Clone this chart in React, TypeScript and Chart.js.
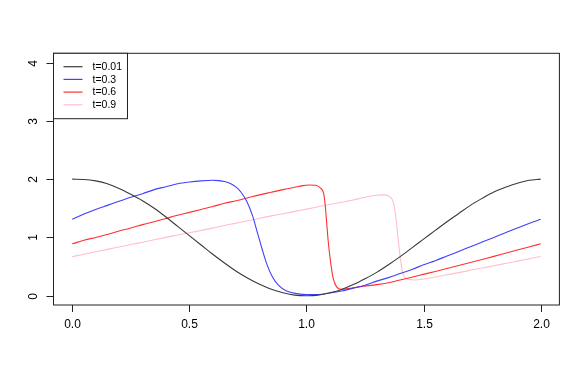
import React, { useEffect, useRef } from "react";
import { Chart, registerables } from "chart.js";

Chart.register(...registerables);

const seriesLabels = ["t=0.01", "t=0.3", "t=0.6", "t=0.9"];
const seriesColors = ["#3a3a3a", "#4040ff", "#ff3030", "#ffc0cb"];

const xTicks = [0, 0.5, 1, 1.5, 2];
const xTickLabels = ["0.0", "0.5", "1.0", "1.5", "2.0"];
const yTicks = [0, 1, 2, 3, 4];
const yTickLabels = ["0", "1", "2", "3", "4"];

const blackX = [0, 0.05, 0.1, 0.15, 0.2, 0.25, 0.3, 0.35, 0.4, 0.45, 0.5, 0.55, 0.6, 0.65, 0.7, 0.75, 0.8, 0.85, 0.9, 0.95, 1.0, 1.05, 1.1, 1.15, 1.2, 1.25, 1.3, 1.35, 1.4, 1.45, 1.5, 1.55, 1.6, 1.65, 1.7, 1.75, 1.8, 1.85, 1.9, 1.95, 2.0];
const blackY = [2.0, 1.995, 1.97, 1.92, 1.84, 1.74, 1.63, 1.5, 1.35, 1.19, 1.03, 0.87, 0.71, 0.56, 0.42, 0.3, 0.195, 0.11, 0.05, 0.01, 0, 0.01, 0.05, 0.107, 0.19, 0.29, 0.4, 0.53, 0.67, 0.82, 0.97, 1.12, 1.27, 1.41, 1.55, 1.67, 1.78, 1.86, 1.93, 1.98, 2.0];

const blueX = [0, 0.05, 0.1, 0.15, 0.2, 0.25, 0.3, 0.35, 0.4, 0.45, 0.5, 0.55, 0.6, 0.625, 0.65, 0.67, 0.69, 0.705, 0.72, 0.745, 0.77, 0.79, 0.81, 0.83, 0.855, 0.88, 0.915, 0.96, 1.0, 1.05, 1.1, 1.15, 1.2, 1.25, 1.3, 1.35, 1.4, 1.45, 1.5, 1.55, 1.6, 1.65, 1.7, 1.75, 1.8, 1.85, 1.9, 1.95, 2.0];
const blueY = [1.31, 1.4, 1.48, 1.55, 1.62, 1.69, 1.75, 1.82, 1.87, 1.92, 1.95, 1.97, 1.98, 1.975, 1.96, 1.935, 1.89, 1.845, 1.78, 1.62, 1.37, 1.09, 0.81, 0.55, 0.32, 0.18, 0.08, 0.035, 0.02, 0.02, 0.045, 0.08, 0.13, 0.18, 0.25, 0.31, 0.38, 0.45, 0.53, 0.6, 0.68, 0.76, 0.84, 0.92, 1.0, 1.08, 1.16, 1.24, 1.31];

const redX = [0, 0.05, 0.1, 0.15, 0.2, 0.25, 0.3, 0.35, 0.4, 0.45, 0.5, 0.55, 0.6, 0.65, 0.7, 0.75, 0.8, 0.85, 0.9, 0.95, 0.98, 1.01, 1.04, 1.06, 1.073, 1.08, 1.086, 1.093, 1.103, 1.114, 1.128, 1.145, 1.19, 1.23, 1.3, 1.35, 1.4, 1.45, 1.5, 1.55, 1.6, 1.65, 1.7, 1.75, 1.8, 1.85, 1.9, 1.95, 2.0];
const redY = [0.89, 0.95, 1.0, 1.05, 1.11, 1.16, 1.22, 1.27, 1.325, 1.38, 1.43, 1.48, 1.53, 1.585, 1.63, 1.68, 1.73, 1.775, 1.82, 1.86, 1.885, 1.9, 1.895, 1.845, 1.76, 1.56, 1.27, 0.93, 0.58, 0.3, 0.155, 0.11, 0.127, 0.155, 0.19, 0.223, 0.269, 0.317, 0.366, 0.415, 0.466, 0.517, 0.569, 0.622, 0.675, 0.729, 0.783, 0.837, 0.89];

const pinkX = [0, 0.05, 0.1, 0.15, 0.2, 0.25, 0.3, 0.35, 0.4, 0.45, 0.5, 0.55, 0.6, 0.65, 0.7, 0.75, 0.8, 0.85, 0.9, 0.95, 1.0, 1.05, 1.1, 1.15, 1.2, 1.25, 1.29, 1.33, 1.355, 1.372, 1.382, 1.391, 1.401, 1.41, 1.428, 1.465, 1.5, 1.55, 1.6, 1.65, 1.7, 1.75, 1.8, 1.85, 1.9, 1.95, 2.0];
const pinkY = [0.67, 0.71, 0.755, 0.795, 0.836, 0.877, 0.918, 0.959, 1.0, 1.04, 1.08, 1.12, 1.16, 1.205, 1.245, 1.286, 1.33, 1.37, 1.407, 1.447, 1.486, 1.526, 1.565, 1.604, 1.642, 1.69, 1.72, 1.73, 1.7, 1.59, 1.33, 0.99, 0.64, 0.41, 0.29, 0.27, 0.285, 0.32, 0.358, 0.396, 0.435, 0.474, 0.514, 0.553, 0.593, 0.633, 0.673];

const seriesX = [blackX, blueX, redX, pinkX];
const seriesY = [blackY, blueY, redY, pinkY];

const FONT = "'Liberation Sans', Arial, sans-serif";

export default function App() {
  const canvasRef = useRef<HTMLCanvasElement | null>(null);

  useEffect(() => {
    const canvas = canvasRef.current;
    if (!canvas) return;

    const rPlugin = {
      id: "rstyle",
      beforeDraw(chart: any) {
        const ctx = chart.ctx;
        ctx.save();
        ctx.fillStyle = "#ffffff";
        ctx.fillRect(0, 0, chart.width, chart.height);
        ctx.restore();
      },
      afterDraw(chart: any) {
        const ctx = chart.ctx;
        const area = chart.chartArea;
        const xs = chart.scales.x;
        const ys = chart.scales.y;
        ctx.save();
        ctx.strokeStyle = "#222";
        ctx.lineWidth = 1;
        ctx.strokeRect(area.left, area.top, area.right - area.left, area.bottom - area.top);

        ctx.fillStyle = "#000";
        ctx.font = `12px ${FONT}`;
        ctx.textAlign = "center";
        ctx.textBaseline = "middle";
        xTicks.forEach((v, i) => {
          const px = Math.round(xs.getPixelForValue(v)) + 0.5;
          ctx.beginPath();
          ctx.moveTo(px, area.bottom);
          ctx.lineTo(px, area.bottom + 7);
          ctx.stroke();
          ctx.fillText(xTickLabels[i], px, area.bottom + 19.5);
        });

        yTicks.forEach((v, i) => {
          const py = Math.round(ys.getPixelForValue(v)) + 0.5;
          ctx.beginPath();
          ctx.moveTo(area.left, py);
          ctx.lineTo(area.left - 7, py);
          ctx.stroke();
          ctx.save();
          ctx.translate(area.left - 19.5, py);
          ctx.rotate(-Math.PI / 2);
          ctx.fillText(yTickLabels[i], 0, 0);
          ctx.restore();
        });

        const lx = area.left;
        const ly = area.top;
        const lw = 74;
        const lh = 65.4;
        ctx.fillStyle = "#fff";
        ctx.fillRect(lx, ly, lw, lh);
        ctx.strokeRect(lx, ly, lw, lh);
        ctx.font = `10.5px ${FONT}`;
        ctx.textAlign = "left";
        seriesLabels.forEach((lab, i) => {
          const rowY = ly + 13.4 + i * 12.7;
          ctx.strokeStyle = seriesColors[i];
          ctx.lineWidth = 1.2;
          ctx.beginPath();
          ctx.moveTo(lx + 10, rowY);
          ctx.lineTo(lx + 29, rowY);
          ctx.stroke();
          ctx.fillStyle = "#000";
          ctx.fillText(lab, lx + 39, rowY + 0.5);
        });
        ctx.restore();
      },
    };

    const chart = new Chart(canvas, {
      type: "line",
      data: {
        datasets: seriesLabels.map((lab, i) => ({
          label: lab,
          data: seriesX[i].map((x, j) => ({ x, y: seriesY[i][j] })),
          borderColor: seriesColors[i],
          borderWidth: 1.1,
          pointRadius: 0,
          fill: false,
          cubicInterpolationMode: "monotone" as const,
        })),
      },
      options: {
        responsive: false,
        animation: false,
        layout: { padding: { left: 53.5, top: 53.3, right: 26.6, bottom: 66 } },
        plugins: { legend: { display: false }, tooltip: { enabled: false } },
        scales: {
          x: { type: "linear", min: -0.08, max: 2.08, display: false },
          y: { type: "linear", min: -0.16, max: 4.16, display: false },
        },
      },
      plugins: [rPlugin],
    });

    return () => chart.destroy();
  }, []);

  return (
    <div style={{ position: "fixed", left: 0, top: 0, width: 586, height: 371, background: "#fff" }}>
      <canvas ref={canvasRef} width={586} height={371} style={{ width: 586, height: 371 }} />
    </div>
  );
}
